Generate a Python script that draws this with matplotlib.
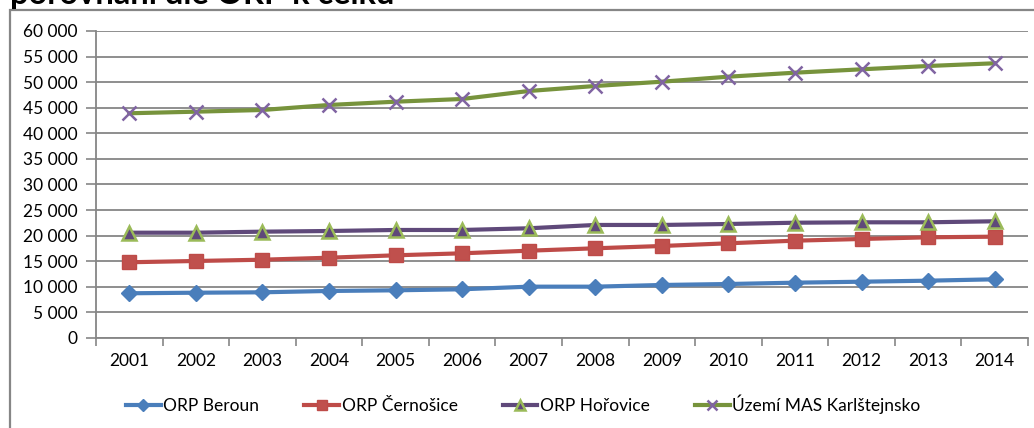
#!/usr/bin/python3
# -*- coding: utf-8 -*-

'''
Vyvoj poctu obyvatel - porovnani dle ORP k celku
'''

import matplotlib.pyplot as plt
from matplotlib.patches import Rectangle
from matplotlib.ticker import FuncFormatter, MultipleLocator

YEARS = [str(y) for y in range(2001, 2015)]
BEROUN = [8740, 8850, 8930, 9190, 9320, 9520, 10030, 10030, 10360, 10550,
          10810, 11000, 11200, 11470]
CERNOSICE = [14800, 15050, 15300, 15690, 16160, 16550, 17060, 17530, 17980,
             18510, 19020, 19350, 19680, 19800]
HOROVICE = [20580, 20580, 20780, 20910, 21110, 21110, 21440, 22090, 22090,
            22280, 22530, 22610, 22610, 22810]
MAS = [43920, 44230, 44560, 45540, 46180, 46710, 48270, 49250, 50090, 51070,
       51850, 52510, 53160, 53690]
LABELS = ['ORP Beroun', 'ORP Černošice', 'ORP Hořovice', 'Území MAS Karlštejnsko']

GRAY = '#868686'


def main():
    '''
    Main function
    '''
    plt.rcParams['font.family'] = ['Lato', 'DejaVu Sans']
    fig = plt.figure(figsize=(10.34, 4.28), dpi=100)
    ax = fig.add_axes([0.0928, 0.2103, 0.9014, 0.7173])

    x = range(len(YEARS))
    ax.plot(x, BEROUN, color='#4A7EBB', lw=3, marker='D', ms=8.5,
            mfc='#4A7EBB', mec='#4A7EBB', label=LABELS[0], zorder=3)
    ax.plot(x, CERNOSICE, color='#BE4B48', lw=3, marker='s', ms=10,
            mfc='#C0504D', mec='#BE4B48', label=LABELS[1], zorder=3)
    ax.plot(x, HOROVICE, color='#5F497A', lw=3, marker='^', ms=10,
            mfc='#5F497A', mec='#9BBB59', mew=1.8, label=LABELS[2], zorder=3)
    ax.plot(x, MAS, color='#77933C', lw=3, marker='x', ms=10,
            mec='#8064A2', mew=1.8, label=LABELS[3], zorder=3)

    ax.set_xlim(-0.5, len(YEARS) - 0.5)
    ax.set_ylim(0, 60000)
    ax.yaxis.set_major_locator(MultipleLocator(5000))
    ax.yaxis.set_major_formatter(
        FuncFormatter(lambda v, p: '{:,.0f}'.format(v).replace(',', ' ')))
    ax.set_xticks(list(x))
    ax.set_xticklabels(YEARS)
    ax.set_xticks([i - 0.5 for i in range(len(YEARS) + 1)], minor=True)
    ax.tick_params(axis='x', which='major', length=0, pad=11,
                   labelsize=12.5, colors='#000000')
    ax.tick_params(axis='x', which='minor', length=6, width=1.2, color=GRAY,
                   direction='out')
    ax.tick_params(axis='y', length=7, width=1.2, color=GRAY, pad=6,
                   labelsize=12.5, labelcolor='#000000')
    ax.grid(axis='y', color=GRAY, lw=1.3)
    ax.set_axisbelow(True)
    for side in ('top', 'right'):
        ax.spines[side].set_visible(False)
    for side in ('left', 'bottom'):
        ax.spines[side].set_color(GRAY)
        ax.spines[side].set_linewidth(1.3)

    leg = fig.legend(loc='center', bbox_to_anchor=(0.506, 0.056), ncol=4,
                     frameon=False, fontsize=12.5, handlelength=2.0,
                     columnspacing=2.6, handletextpad=0.15, markerscale=0.75)
    for line in leg.get_lines():
        line.set_linewidth(3)

    # chart border, cut at the right and bottom
    fig.patches.append(Rectangle((10 / 1034, -0.1), 1.2, 0.1 + 418 / 428,
                                 transform=fig.transFigure, fill=False,
                                 edgecolor=GRAY, lw=1.6, clip_on=False))
    # title, only its bottom part is visible
    fig.text(10 / 1034, 1 - 4 / 428, 'porovnání dle ORP k celku',
             fontsize=23.5, fontweight='bold', va='baseline', ha='left')

    fig.savefig('out.png', dpi=100)


if __name__ == '__main__':
    main()
